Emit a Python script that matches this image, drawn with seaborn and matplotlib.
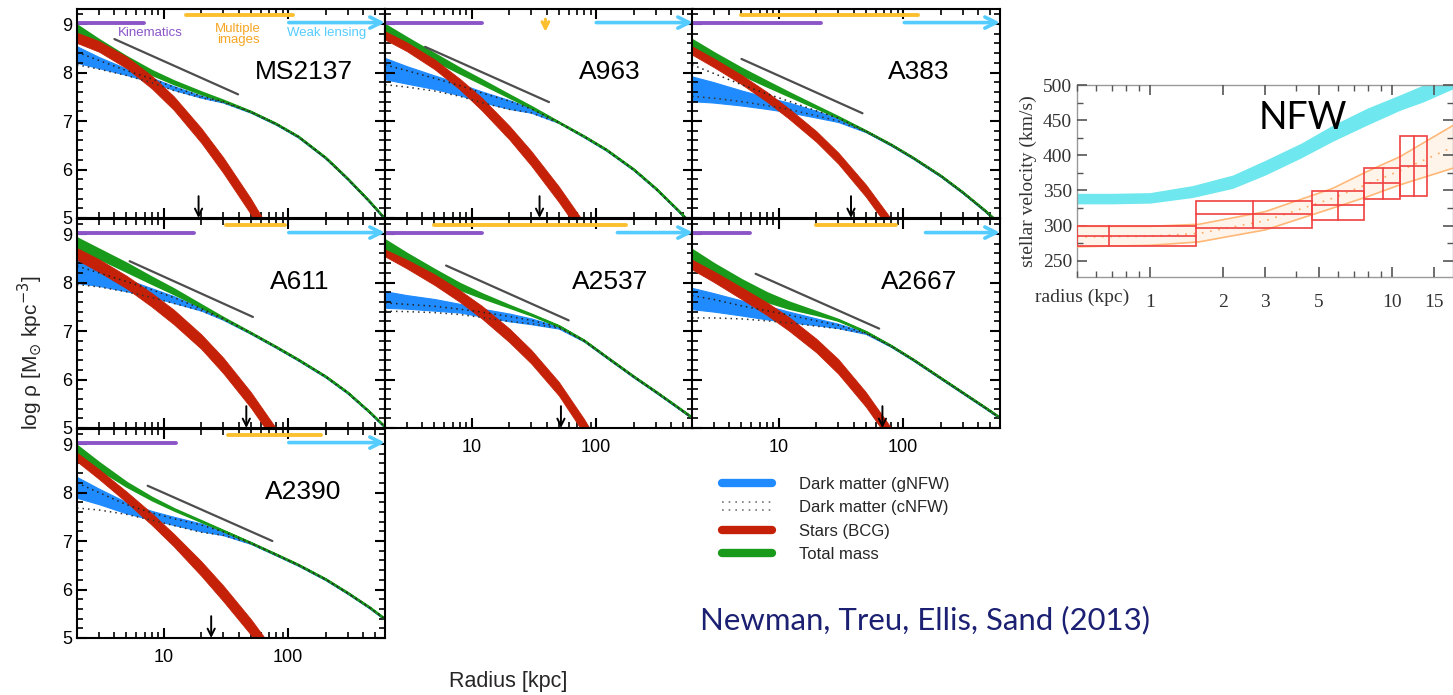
import numpy as np
import matplotlib
matplotlib.use("Agg")
import matplotlib.pyplot as plt
import seaborn as sns
from matplotlib.lines import Line2D
from matplotlib.patches import Rectangle
from matplotlib.legend_handler import HandlerBase
from matplotlib.ticker import (FixedLocator, MultipleLocator, LogLocator,
                               NullFormatter, FuncFormatter, FixedFormatter)

# ---------------------------------------------------------------- data
R = [2, 3, 5, 8, 12, 20, 30, 50, 80, 120, 200, 300, 450, 600]
RED_R = [2, 3, 5, 8, 12, 20, 30, 50, 80, 120]
PANELS = ["MS2137", "A963", "A383", "A611", "A2537", "A2667", "A2390"]

MS2137_GREEN_HI = [8.98, 8.68, 8.33, 8.04, 7.83, 7.60, 7.43, 7.20, 6.95, 6.69, 6.25, 5.82, 5.35, 4.99]
MS2137_GREEN_LO = [8.80, 8.54, 8.22, 7.96, 7.77, 7.56, 7.41, 7.19, 6.94, 6.68, 6.24, 5.81, 5.34, 4.98]
MS2137_RED_HI = [8.82, 8.65, 8.33, 7.93, 7.51, 6.85, 6.25, 5.40, 4.52, 3.69]
MS2137_RED_LO = [8.61, 8.43, 8.09, 7.67, 7.23, 6.55, 5.93, 5.08, 4.20, 3.37]
MS2137_BLUE_HI = [8.54, 8.32, 8.08, 7.89, 7.72, 7.52, 7.40, 7.18, 6.93, 6.67, 6.23, 5.80, 5.33, 4.97]
MS2137_BLUE_LO = [8.20, 8.09, 7.95, 7.80, 7.64, 7.48, 7.38, 7.17, 6.92, 6.66, 6.22, 5.79, 5.32, 4.96]
MS2137_DOT_HI = [8.42, 8.25, 8.04, 7.87, 7.70, 7.51, 7.40, 7.19, 6.94, 6.68, 6.24, 5.81, 5.34, 4.98]
MS2137_DOT_LO = [8.16, 8.07, 7.94, 7.79, 7.63, 7.48, 7.38, 7.18, 6.93, 6.67, 6.23, 5.80, 5.33, 4.97]

A963_GREEN_HI = [8.99, 8.72, 8.39, 8.09, 7.85, 7.54, 7.30, 6.98, 6.69, 6.42, 6.01, 5.62, 5.18, 4.85]
A963_GREEN_LO = [8.78, 8.54, 8.25, 7.99, 7.77, 7.49, 7.27, 6.97, 6.68, 6.41, 6.00, 5.61, 5.17, 4.84]
A963_RED_HI = [8.85, 8.62, 8.27, 7.87, 7.48, 6.90, 6.38, 5.65, 4.90, 4.19]
A963_RED_LO = [8.68, 8.44, 8.07, 7.65, 7.22, 6.62, 6.08, 5.33, 4.58, 3.87]
A963_BLUE_HI = [8.30, 8.13, 7.94, 7.77, 7.61, 7.43, 7.26, 6.97, 6.67, 6.40, 5.99, 5.60, 5.16, 4.83]
A963_BLUE_LO = [7.86, 7.77, 7.66, 7.53, 7.39, 7.25, 7.17, 6.96, 6.66, 6.39, 5.98, 5.59, 5.15, 4.82]
A963_DOT_HI = [8.16, 8.04, 7.88, 7.73, 7.58, 7.41, 7.25, 6.97, 6.68, 6.41, 6.00, 5.61, 5.17, 4.84]
A963_DOT_LO = [7.75, 7.70, 7.62, 7.51, 7.38, 7.24, 7.17, 6.96, 6.67, 6.40, 5.99, 5.60, 5.16, 4.83]

A383_GREEN_HI = [8.68, 8.41, 8.09, 7.82, 7.59, 7.31, 7.09, 6.80, 6.52, 6.25, 5.88, 5.54, 5.17, 4.88]
A383_GREEN_LO = [8.47, 8.24, 7.96, 7.72, 7.52, 7.27, 7.07, 6.79, 6.51, 6.24, 5.87, 5.53, 5.16, 4.87]
A383_RED_HI = [8.54, 8.29, 7.95, 7.60, 7.26, 6.79, 6.35, 5.69, 4.98, 4.29]
A383_RED_LO = [8.37, 8.11, 7.76, 7.40, 7.05, 6.57, 6.12, 5.44, 4.72, 4.01]
A383_BLUE_HI = [7.92, 7.80, 7.63, 7.49, 7.38, 7.21, 7.05, 6.78, 6.50, 6.23, 5.86, 5.52, 5.15, 4.86]
A383_BLUE_LO = [7.41, 7.38, 7.32, 7.25, 7.18, 7.07, 6.98, 6.77, 6.49, 6.22, 5.85, 5.51, 5.14, 4.85]
A383_DOT_HI = [8.16, 7.98, 7.75, 7.56, 7.41, 7.21, 7.06, 6.79, 6.51, 6.24, 5.87, 5.53, 5.16, 4.87]
A383_DOT_LO = [7.51, 7.47, 7.40, 7.32, 7.24, 7.11, 7.00, 6.78, 6.50, 6.23, 5.86, 5.52, 5.15, 4.86]

A611_GREEN_HI = [8.92, 8.69, 8.40, 8.11, 7.87, 7.54, 7.28, 6.97, 6.68, 6.42, 6.07, 5.74, 5.34, 5.03]
A611_GREEN_LO = [8.71, 8.50, 8.23, 7.98, 7.77, 7.49, 7.26, 6.96, 6.67, 6.41, 6.06, 5.73, 5.33, 5.02]
A611_RED_HI = [8.71, 8.48, 8.14, 7.78, 7.44, 6.93, 6.45, 5.74, 4.99, 4.27]
A611_RED_LO = [8.47, 8.22, 7.88, 7.50, 7.14, 6.63, 6.13, 5.42, 4.67, 3.95]
A611_BLUE_HI = [8.47, 8.30, 8.07, 7.88, 7.72, 7.47, 7.25, 6.95, 6.66, 6.40, 6.05, 5.72, 5.32, 5.01]
A611_BLUE_LO = [7.99, 7.93, 7.82, 7.70, 7.58, 7.42, 7.23, 6.94, 6.65, 6.39, 6.04, 5.71, 5.31, 5.00]
A611_DOT_HI = [8.34, 8.20, 8.02, 7.85, 7.69, 7.46, 7.26, 6.96, 6.67, 6.41, 6.06, 5.73, 5.33, 5.02]
A611_DOT_LO = [7.96, 7.91, 7.81, 7.69, 7.57, 7.42, 7.24, 6.95, 6.66, 6.40, 6.05, 5.72, 5.32, 5.01]

A2537_GREEN_HI = [8.88, 8.60, 8.27, 7.98, 7.77, 7.53, 7.35, 7.11, 6.81, 6.48, 6.07, 5.76, 5.44, 5.21]
A2537_GREEN_LO = [8.68, 8.41, 8.11, 7.86, 7.69, 7.49, 7.33, 7.10, 6.80, 6.47, 6.06, 5.75, 5.43, 5.20]
A2537_RED_HI = [8.68, 8.47, 8.17, 7.84, 7.52, 7.05, 6.61, 5.95, 5.18, 4.42]
A2537_RED_LO = [8.54, 8.29, 7.95, 7.60, 7.26, 6.77, 6.33, 5.67, 4.88, 4.12]
A2537_BLUE_HI = [7.82, 7.74, 7.66, 7.56, 7.46, 7.36, 7.26, 7.09, 6.79, 6.46, 6.05, 5.74, 5.42, 5.19]
A2537_BLUE_LO = [7.48, 7.46, 7.42, 7.38, 7.30, 7.20, 7.14, 7.05, 6.78, 6.45, 6.04, 5.73, 5.41, 5.18]
A2537_DOT_HI = [7.58, 7.55, 7.51, 7.45, 7.39, 7.30, 7.22, 7.08, 6.80, 6.47, 6.06, 5.75, 5.43, 5.20]
A2537_DOT_LO = [7.41, 7.40, 7.38, 7.34, 7.28, 7.20, 7.15, 7.06, 6.79, 6.46, 6.05, 5.74, 5.42, 5.19]

A2667_GREEN_HI = [8.68, 8.39, 8.06, 7.79, 7.60, 7.40, 7.24, 6.99, 6.70, 6.42, 6.04, 5.74, 5.44, 5.22]
A2667_GREEN_LO = [8.47, 8.19, 7.86, 7.61, 7.47, 7.34, 7.22, 6.98, 6.69, 6.41, 6.03, 5.73, 5.43, 5.21]
A2667_RED_HI = [8.47, 8.23, 7.90, 7.59, 7.29, 6.84, 6.42, 5.74, 5.00, 4.30]
A2667_RED_LO = [8.27, 8.01, 7.66, 7.33, 7.01, 6.56, 6.12, 5.44, 4.70, 4.00]
A2667_BLUE_HI = [7.89, 7.78, 7.63, 7.52, 7.40, 7.26, 7.15, 6.97, 6.68, 6.40, 6.02, 5.72, 5.42, 5.20]
A2667_BLUE_LO = [7.45, 7.40, 7.32, 7.24, 7.18, 7.12, 7.06, 6.94, 6.67, 6.39, 6.01, 5.71, 5.41, 5.19]
A2667_DOT_HI = [7.73, 7.65, 7.52, 7.42, 7.33, 7.21, 7.12, 6.96, 6.69, 6.41, 6.03, 5.73, 5.43, 5.21]
A2667_DOT_LO = [7.27, 7.27, 7.25, 7.21, 7.17, 7.10, 7.05, 6.95, 6.68, 6.40, 6.02, 5.72, 5.42, 5.20]

A2390_GREEN_HI = [8.97, 8.62, 8.21, 7.90, 7.67, 7.42, 7.22, 6.97, 6.73, 6.52, 6.22, 5.94, 5.64, 5.40]
A2390_GREEN_LO = [8.80, 8.48, 8.13, 7.85, 7.64, 7.40, 7.21, 6.96, 6.72, 6.51, 6.21, 5.93, 5.63, 5.39]
A2390_RED_HI = [8.82, 8.48, 8.02, 7.57, 7.15, 6.58, 6.08, 5.39, 4.68, 4.03]
A2390_RED_LO = [8.64, 8.28, 7.80, 7.33, 6.89, 6.28, 5.76, 5.07, 4.36, 3.71]
A2390_BLUE_HI = [8.32, 8.08, 7.80, 7.62, 7.50, 7.36, 7.19, 6.95, 6.71, 6.50, 6.20, 5.92, 5.62, 5.38]
A2390_BLUE_LO = [7.89, 7.76, 7.57, 7.44, 7.33, 7.20, 7.12, 6.94, 6.70, 6.49, 6.19, 5.91, 5.61, 5.37]
A2390_DOT_HI = [8.20, 8.00, 7.75, 7.58, 7.46, 7.33, 7.19, 6.96, 6.72, 6.51, 6.21, 5.93, 5.63, 5.39]
A2390_DOT_LO = [7.68, 7.64, 7.55, 7.43, 7.32, 7.18, 7.12, 6.95, 6.71, 6.50, 6.20, 5.92, 5.62, 5.38]

# reference slope line (start / end radius and log density), per panel
GRAY_R0 = [4.0, 4.2, 5.0, 5.3, 6.2, 6.5, 7.4]
GRAY_R1 = [39.5, 41.7, 47.0, 52.0, 60.0, 64.0, 74.5]
GRAY_V0 = [8.69, 8.53, 8.28, 8.44, 8.35, 8.18, 8.14]
GRAY_V1 = [7.55, 7.39, 7.16, 7.29, 7.22, 7.05, 7.00]
# radius markers (black arrows)
ARROW_R = [19, 35, 38, 46, 52, 68, 24]
# data coverage bars (radius ranges)
KIN_END = [6.9, 12.0, 22.0, 17.3, 12.0, 5.9, 12.6]
MULTI_LO = [15.0, np.nan, 5.0, 31.8, 5.0, 20.0, 32.5]
MULTI_HI = [110.0, np.nan, 132.0, 95.0, 174.0, 87.0, 185.0]
MULTI_ARROW_R = [np.nan, 39.0, np.nan, np.nan, np.nan, np.nan, np.nan]
WL_START = [101, 100, 102, 101, 148, 151, 101]

# inset: stellar velocity dispersion profile
CYAN_R = [0.5, 0.7, 1.0, 1.5, 2.2, 3.0, 4.2, 5.7, 7.9, 10.8, 13.5, 18.0]
CYAN_LO = [331, 331, 332, 340, 353, 372, 396, 420, 443, 464, 476, 495]
CYAN_HI = [346, 346, 347, 357, 372, 393, 417, 443, 467, 486, 500, 520]
BIN_R_LO = [0.5, 1.55, 4.67, 7.7, 10.8]
BIN_R_HI = [1.55, 4.67, 7.7, 10.8, 14.0]
BIN_R_MID = [0.68, 2.67, 5.98, 9.2, 12.3]
BIN_V_LO = [271, 296, 308, 338, 342]
BIN_V_MID = [286, 316, 329, 361, 385]
BIN_V_HI = [300, 335, 349, 382, 428]
ORANGE_R = [0.5, 1.0, 1.6, 3.0, 5.7, 7.9, 10.8, 18.0]
ORANGE_LO = [270, 272, 277, 294, 325, 341, 358, 382]
ORANGE_HI = [299, 299, 302, 320, 353, 377, 398, 443]
ORANGE_MID = [284, 285, 289, 307, 339, 359, 378, 412]
INSET_XTICKS = [1, 2, 3, 5, 10, 15]
INSET_XTICKLABELS = ["1", "2", "3", "5", "10", "15"]
INSET_YTICKS = [250, 300, 350, 400, 450, 500]

LEGEND_LABELS = ["Dark matter (gNFW)", "Dark matter (cNFW)", "Stars (BCG)", "Total mass"]

# ---------------------------------------------------------------- style
sns.set_theme(style="ticks")
plt.rcParams.update({
    "font.family": ["Liberation Sans", "DejaVu Sans"],
    "mathtext.fontset": "dejavusans",
    "xtick.bottom": True, "xtick.top": True, "ytick.left": True, "ytick.right": True,
    "xtick.direction": "in", "ytick.direction": "in",
    "xtick.color": "black", "ytick.color": "black",
    "axes.axisbelow": False,
})

GREEN = "#1a9a1a"
RED = "#c52108"
BLUE = "#1f8bff"
PURPLE = "#8b55c8"
ORANGE = "#fcbf2e"
CYAN = "#55ccff"
GRAY = "#4d4d4d"

W, H = 1453, 695
fig = plt.figure(figsize=(W / 100, H / 100), dpi=100)

g = globals()
DATA = {p: {k: g[f"{p}_{k}"] for k in
            ["GREEN_HI", "GREEN_LO", "RED_HI", "RED_LO", "BLUE_HI", "BLUE_LO", "DOT_HI", "DOT_LO"]}
        for p in PANELS}

GRID = [(0, 0), (0, 1), (0, 2), (1, 0), (1, 1), (1, 2), (2, 0)]
COL_X = [77, 385, 692]
ROW_Y = [9, 219, 429]
PW, PH = 308, 209
SHOW_X = {(2, 0), (1, 1), (1, 2)}
NAME_X = [0.578, 0.63, 0.636, 0.627, 0.607, 0.614, 0.61]

fmt = FuncFormatter(lambda v, p: f"{v:g}")


def style_ticks(ax, major_len, minor_len, major_w, minor_w, color):
    for axis in (ax.xaxis, ax.yaxis):
        axis.set_tick_params(which="major", direction="in", length=major_len,
                             width=major_w, color=color, tick1On=True, tick2On=True)
        axis.set_tick_params(which="minor", direction="in", length=minor_len,
                             width=minor_w, color=color, tick1On=True, tick2On=True)


for i, name in enumerate(PANELS):
    row, col = GRID[i]
    ax = fig.add_axes([COL_X[col] / W, 1 - (ROW_Y[row] + PH) / H, PW / W, PH / H])
    ax.set_xscale("log")
    d = DATA[name]
    ax.fill_between(R, d["BLUE_LO"], d["BLUE_HI"], color=BLUE, lw=0.8, zorder=2)
    ax.fill_between(R, d["GREEN_LO"], d["GREEN_HI"], color=GREEN, lw=1.6, zorder=3)
    ax.fill_between(RED_R, d["RED_LO"], d["RED_HI"], color=RED, lw=0.6, zorder=4)
    sns.lineplot(x=R, y=d["DOT_HI"], ax=ax, color="#222222", lw=1.1,
                 linestyle=(0, (1, 2.6)), zorder=5, errorbar=None)
    sns.lineplot(x=R, y=d["DOT_LO"], ax=ax, color="#333333", lw=1.1,
                 linestyle=(0, (1, 2.6)), zorder=5, errorbar=None)
    sns.lineplot(x=[GRAY_R0[i], GRAY_R1[i]], y=[GRAY_V0[i], GRAY_V1[i]], ax=ax,
                 color=GRAY, lw=1.6, zorder=6, errorbar=None)
    # coverage bars
    sns.lineplot(x=[2, KIN_END[i]], y=[9.03, 9.03], ax=ax, color=PURPLE, lw=2.8,
                 zorder=6, errorbar=None)
    if not np.isnan(MULTI_LO[i]):
        sns.lineplot(x=[MULTI_LO[i], MULTI_HI[i]], y=[9.19, 9.19], ax=ax, color=ORANGE,
                     lw=2.8, zorder=6, errorbar=None)
    if not np.isnan(MULTI_ARROW_R[i]):
        ax.annotate("", xy=(MULTI_ARROW_R[i], 8.84), xytext=(MULTI_ARROW_R[i], 9.1),
                    arrowprops=dict(arrowstyle="->", color=ORANGE, lw=2.2,
                                    mutation_scale=12, shrinkA=0, shrinkB=0))
    ax.annotate("", xy=(600, 9.03), xytext=(WL_START[i], 9.03),
                arrowprops=dict(arrowstyle="->", color=CYAN, lw=2.6,
                                mutation_scale=20, shrinkA=0, shrinkB=0), zorder=6)
    ax.annotate("", xy=(ARROW_R[i], 5.0), xytext=(ARROW_R[i], 5.45),
                arrowprops=dict(arrowstyle="->", color="black", lw=1.4,
                                mutation_scale=13, shrinkA=0, shrinkB=0), zorder=7)
    ax.text(NAME_X[i], 0.70, name, transform=ax.transAxes, ha="left", va="center",
            fontsize=19, color="black")
    if i == 0:
        ax.text(4.28, 8.81, "Kinematics", color=PURPLE, fontsize=9.5, ha="left", va="center")
        ax.text(39.5, 8.78, "Multiple\nimages", color="#f5a623", fontsize=9.5,
                ha="center", va="center", linespacing=0.9)
        ax.text(98, 8.81, "Weak lensing", color=CYAN, fontsize=9.5, ha="left", va="center")

    ax.set_xlim(2, 600)
    ax.set_ylim(5, 9.31)
    ax.xaxis.set_major_locator(FixedLocator([10, 100]))
    ax.xaxis.set_minor_locator(LogLocator(base=10, subs=np.arange(2, 10), numticks=20))
    ax.xaxis.set_major_formatter(fmt)
    ax.xaxis.set_minor_formatter(NullFormatter())
    ax.yaxis.set_major_locator(MultipleLocator(1))
    ax.yaxis.set_minor_locator(MultipleLocator(0.2))
    style_ticks(ax, 7, 4, 1.5, 1.2, "black")
    ax.tick_params(labelsize=13, labelcolor="black")
    ax.tick_params(axis="x", which="major", pad=8)
    ax.tick_params(labelleft=(col == 0), labelbottom=((row, col) in SHOW_X))
    ax.set_xlabel("")
    ax.set_ylabel("")
    for s in ax.spines.values():
        s.set_visible(True)
        s.set_color("black")
        s.set_linewidth(1.5)
        s.set_zorder(8)

fig.text(30 / W, 1 - 353 / H, r"log ρ [M$_{\odot}$ kpc$^{-3}$]", rotation=90,
         ha="center", va="center", fontsize=15)
fig.text(508 / W, 1 - 682 / H, "Radius [kpc]", ha="center", va="center", fontsize=15.5)


# ---------------------------------------------------------------- legend
class TwoDotHandler(HandlerBase):
    def create_artists(self, legend, orig_handle, xdescent, ydescent, width, height,
                       fontsize, trans):
        arts = []
        for frac in (0.9, 0.2):
            ln = Line2D([-xdescent, width - xdescent], [height * frac - ydescent] * 2,
                        linestyle=(0, (1, 3)), color="#777777", lw=1.2)
            ln.set_transform(trans)
            arts.append(ln)
        return arts


h_blue = Line2D([], [], color=BLUE, lw=6)
h_dot = Line2D([], [], color="#777777", lw=1.2, ls=":")
h_red = Line2D([], [], color=RED, lw=6)
h_green = Line2D([], [], color=GREEN, lw=6)
fig.legend([h_blue, h_dot, h_red, h_green], LEGEND_LABELS, loc="upper left",
           bbox_to_anchor=(707 / W, 1 - 462 / H), frameon=False, fontsize=12,
           handlelength=3.0, handletextpad=1.6, labelspacing=0.5,
           handler_map={h_dot: TwoDotHandler()})

fig.text(700 / W, 1 - 620 / H, "Newman, Treu, Ellis, Sand (2013)", ha="left",
         va="center", fontsize=22.4, color="#1c2072", family=["Lato", "DejaVu Sans"])

# ---------------------------------------------------------------- inset
SERIF = ["Liberation Serif", "DejaVu Serif"]
axi = fig.add_axes([1077 / W, 1 - 277 / H, (W - 1077) / W, 192 / H])
axi.set_xscale("log")
axi.fill_between(CYAN_R, CYAN_LO, CYAN_HI, color="#6ee8ee", lw=0, zorder=2)
axi.fill_between(ORANGE_R, ORANGE_LO, ORANGE_HI, color="#ffd6a8", alpha=0.25, lw=0, zorder=1)
sns.lineplot(x=ORANGE_R, y=ORANGE_LO, ax=axi, color="#ffb878", lw=1.2, zorder=3, errorbar=None)
sns.lineplot(x=ORANGE_R, y=ORANGE_HI, ax=axi, color="#ffb878", lw=1.2, zorder=3, errorbar=None)
sns.lineplot(x=ORANGE_R, y=ORANGE_MID, ax=axi, color="#ffa860", lw=1.2,
             linestyle=(0, (1, 4)), zorder=3, errorbar=None)
for rlo, rhi, rmid, vlo, vmid, vhi in zip(BIN_R_LO, BIN_R_HI, BIN_R_MID,
                                          BIN_V_LO, BIN_V_MID, BIN_V_HI):
    axi.add_patch(Rectangle((rlo, vlo), rhi - rlo, vhi - vlo, fill=False,
                            edgecolor="#f04040", lw=1.2, zorder=4))
    axi.plot([rlo, rhi], [vmid, vmid], color="#f04040", lw=1.2, zorder=4)
    axi.plot([rmid, rmid], [vlo, vhi], color="#f04040", lw=1.2, zorder=4)
axi.set_xlim(0.5, 17.9)
axi.set_ylim(227, 500)
axi.xaxis.set_major_locator(FixedLocator(INSET_XTICKS))
axi.xaxis.set_major_formatter(FixedFormatter(INSET_XTICKLABELS))
axi.xaxis.set_minor_locator(LogLocator(base=10, subs=np.arange(1, 10), numticks=20))
axi.xaxis.set_minor_formatter(NullFormatter())
axi.yaxis.set_major_locator(FixedLocator(INSET_YTICKS))
axi.yaxis.set_minor_locator(MultipleLocator(25))
style_ticks(axi, 7, 4, 1.2, 1.0, "#555555")
axi.tick_params(labelcolor="#333333", labelsize=14)
axi.tick_params(axis="x", which="major", pad=12)
for lab in axi.get_xticklabels() + axi.get_yticklabels():
    lab.set_family(SERIF)
axi.set_xlabel("")
axi.set_ylabel("stellar velocity (km/s)", family=SERIF, fontsize=14, color="#333333",
               labelpad=4)
for s in axi.spines.values():
    s.set_visible(True)
    s.set_color("#999999")
    s.set_linewidth(1.0)
fig.text(1035 / W, 1 - 297 / H, "radius (kpc)", ha="left", va="center", fontsize=14,
         family=SERIF, color="#333333")
fig.text(1303 / W, 1 - 118 / H, "NFW", ha="center", va="center", fontsize=27,
         family=["Lato", "DejaVu Sans"], color="black")

fig.savefig("out.png", dpi=100)
